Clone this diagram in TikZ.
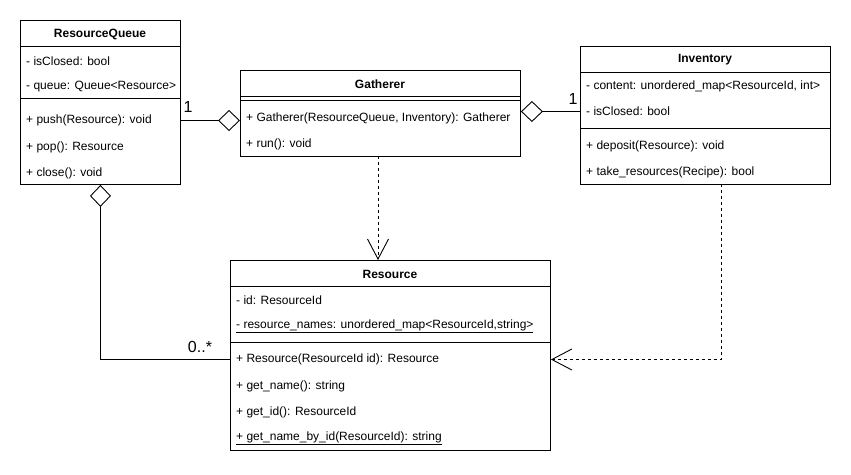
\documentclass[tikz,border=0pt]{standalone}
\usepackage{fontspec}
\setmainfont{Liberation Sans}
\usetikzlibrary{arrows.meta,calc}
\begin{document}
\begin{tikzpicture}[x=1pt,y=-1pt,
  cls/.style={draw, line width=0.9pt, inner sep=0pt, anchor=north west, fill=white},
  head/.style={font=\fontsize{12}{14}\selectfont\bfseries, inner sep=0pt},
  item/.style={font=\fontsize{12}{14}\selectfont, anchor=west, inner sep=0pt},
  mult/.style={font=\fontsize{16}{19}\selectfont, inner sep=0pt},
  sep/.style={line width=0.9pt},
  agg/.style={line width=0.9pt},
  dep/.style={line width=0.9pt, dash pattern=on 3pt off 3pt},
  dia/.tip={Diamond[open, length=22pt, width=21pt]},
  vee/.tip={Straight Barb[length=20pt, width=21pt]}
]
\useasboundingbox (0,0) rectangle (851,474);

% ResourceQueue
\node[cls, minimum width=160pt, minimum height=164pt] (rq) at (20,20) {};
\node[head] (rqh) at (100,34) {ResourceQueue};
\draw[sep] ($(rq.north west)+(0,26)$) -- ($(rq.north east)+(0,26)$);
\node[item] (rqa1) at (26,61) {- isClosed: bool};
\node[item] (rqa2) at (26,87) {- queue: Queue<Resource>};
\draw[sep] ($(rq.north west)+(0,78)$) -- ($(rq.north east)+(0,78)$);
\node[item] (rqm1) at (26,120.5) {+ push(Resource): void};
\node[item] (rqm2) at (26,147) {+ pop(): Resource};
\node[item] (rqm3) at (26,173) {+ close(): void};

% Gatherer
\node[cls, minimum width=280pt, minimum height=86pt] (ga) at (240,70) {};
\node[head] (gah) at (380,84) {Gatherer};
\draw[sep] ($(ga.north west)+(0,26)$) -- ($(ga.north east)+(0,26)$);
\draw[sep] ($(ga.north west)+(0,30)$) -- ($(ga.north east)+(0,30)$);
\node[item] (gam1) at (246,118) {+ Gatherer(ResourceQueue, Inventory): Gatherer};
\node[item] (gam2) at (246,144) {+ run(): void};

% Inventory
\node[cls, minimum width=250pt, minimum height=138pt] (inv) at (580,46) {};
\node[head] (invh) at (705,60) {Inventory};
\draw[sep] ($(inv.north west)+(0,26)$) -- ($(inv.north east)+(0,26)$);
\node[item] (inva1) at (586,86) {- content: unordered\_map<ResourceId, int>};
\node[item] (inva2) at (586,111.5) {- isClosed: bool};
\draw[sep] ($(inv.north west)+(0,82)$) -- ($(inv.north east)+(0,82)$);
\node[item] (invm1) at (586,146) {+ deposit(Resource): void};
\node[item] (invm2) at (586,172) {+ take\_resources(Recipe): bool};

% Resource
\node[cls, minimum width=320pt, minimum height=190pt] (res) at (230,260) {};
\node[head] (resh) at (390,274) {Resource};
\draw[sep] ($(res.north west)+(0,26)$) -- ($(res.north east)+(0,26)$);
\node[item] (resa1) at (236,300) {- id: ResourceId};
\node[item] (resa2) at (236,326) {\underline{- resource\_names: unordered\_map<ResourceId,string>}};
\draw[sep] ($(res.north west)+(0,82)$) -- ($(res.north east)+(0,82)$);
\node[item] (resm1) at (236,359.5) {+ Resource(ResourceId id): Resource};
\node[item] (resm2) at (236,386) {+ get\_name(): string};
\node[item] (resm3) at (236,412) {+ get\_id(): ResourceId};
\node[item] (resm4) at (236,438) {\underline{+ get\_name\_by\_id(ResourceId): string}};

% Connectors
\draw[agg, -{dia}] (rq.east |- rqm1) -- (ga.west |- rqm1);
\node[mult] (m1) at (188,107) {1};
\draw[agg, -{dia}] (inv.west |- inva2) -- (ga.east |- inva2);
\node[mult] (m2) at (573,99) {1};
\draw[agg, {dia}-] (rq.south) |- (res.west |- resm1);
\node[mult] (m3) at (200,347) {0..*};
\coordinate (gad) at (378,156);
\draw[dep, -{vee}] (gad) -- (gad |- res.north);
\coordinate (invd) at (721,184);
\draw[dep, -{vee}] (invd) |- (res.east |- resm1);
\end{tikzpicture}
\end{document}
